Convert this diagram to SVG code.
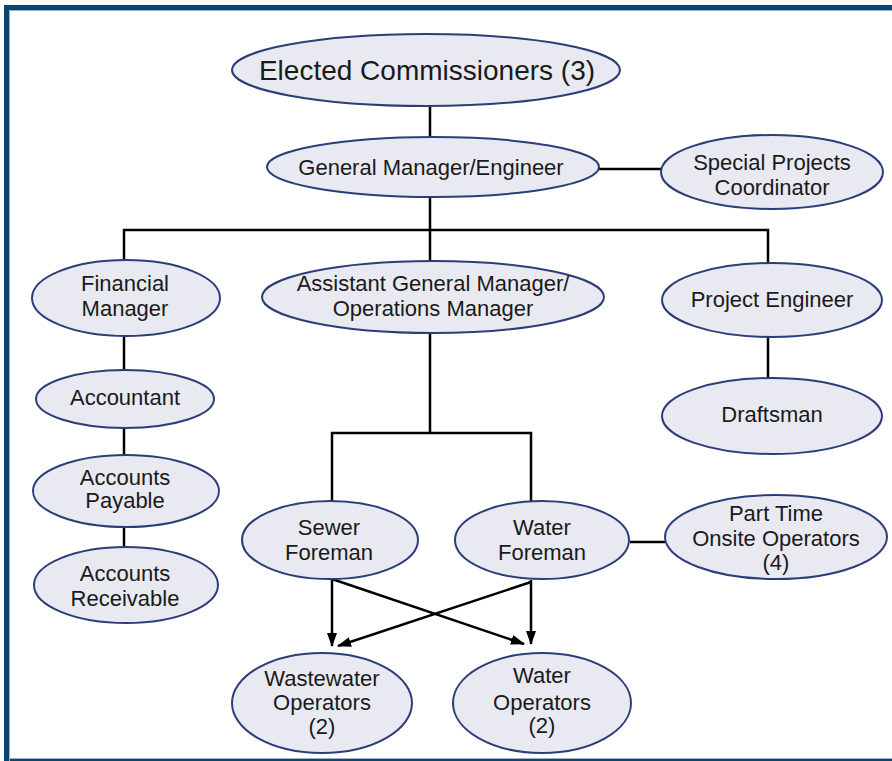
<svg xmlns="http://www.w3.org/2000/svg" width="892" height="761" viewBox="0 0 892 761">
<style>
.n ellipse{fill:#e8e9f1;stroke:#2c3e78;stroke-width:2}
.n text{font-family:"Liberation Sans",Arial,sans-serif;font-size:22px;fill:#1a1a1a;text-anchor:middle}
.c path{fill:none;stroke:#000;stroke-width:2.5}
.c .a{marker-end:url(#ah)}
</style>
<defs>
<marker id="ah" viewBox="0 0 14 10" refX="13" refY="5" markerWidth="14" markerHeight="10" markerUnits="userSpaceOnUse" orient="auto">
<path d="M0,0 L14,5 L0,10 Z" fill="#000"/>
</marker>
</defs>
<rect x="0" y="0" width="892" height="761" fill="#fff"/>
<rect x="4" y="5" width="888" height="5" fill="#0b456f"/>
<rect x="4" y="5" width="5" height="756" fill="#0b456f"/>
<rect x="4" y="759" width="888" height="2" fill="#0b456f"/>
<path d="M9.5,761 V10.5 H892 M9.5,758.5 H892" fill="none" stroke="#9ab4cc" stroke-width="1"/>
<g class="c">
<path d="M430,106 V138"/>
<path d="M598,169 H662"/>
<path d="M430,198 V262"/>
<path d="M124,262 V230 H768 V263"/>
<path d="M124,337 V370"/>
<path d="M124,428 V455"/>
<path d="M124,527 V546"/>
<path d="M768,337 V379"/>
<path d="M430,333 V433"/>
<path d="M332,501 V433 H531 V501"/>
<path d="M630,542 H665"/>
<path class="a" d="M332,579 V646"/>
<path class="a" d="M332,579 L524,644"/>
<path class="a" d="M531,580 V644"/>
<path class="a" d="M531,582 L338,646"/>
</g>
<g id="elected" class="n"><ellipse cx="426" cy="70" rx="194" ry="36"/><text x="427" y="80" style="font-size:28px">Elected Commissioners (3)</text></g>
<g id="gm" class="n"><ellipse cx="433" cy="167" rx="166" ry="30"/><text x="431" y="175">General Manager/Engineer</text></g>
<g id="special" class="n"><ellipse cx="772" cy="172" rx="111" ry="37"/><text x="772" y="170">Special Projects</text><text x="772" y="195">Coordinator</text></g>
<g id="financial" class="n"><ellipse cx="126" cy="298" rx="94" ry="38"/><text x="125" y="291">Financial</text><text x="125" y="316">Manager</text></g>
<g id="accountant" class="n"><ellipse cx="125" cy="399" rx="89" ry="29"/><text x="125" y="405">Accountant</text></g>
<g id="payable" class="n"><ellipse cx="126" cy="491" rx="93" ry="36"/><text x="125" y="485">Accounts</text><text x="125" y="508">Payable</text></g>
<g id="receivable" class="n"><ellipse cx="126" cy="585" rx="92" ry="38"/><text x="125" y="581">Accounts</text><text x="125" y="606">Receivable</text></g>
<g id="agm" class="n"><ellipse cx="433" cy="297" rx="171" ry="36"/><text x="433" y="291">Assistant General Manager/</text><text x="433" y="316">Operations Manager</text></g>
<g id="projeng" class="n"><ellipse cx="772" cy="300" rx="110" ry="37"/><text x="772" y="307">Project Engineer</text></g>
<g id="draftsman" class="n"><ellipse cx="772" cy="416" rx="110" ry="38"/><text x="772" y="422">Draftsman</text></g>
<g id="sewer" class="n"><ellipse cx="330" cy="540" rx="88" ry="39"/><text x="329" y="535">Sewer</text><text x="329" y="560">Foreman</text></g>
<g id="waterf" class="n"><ellipse cx="542" cy="540" rx="87" ry="39"/><text x="542" y="535">Water</text><text x="542" y="560">Foreman</text></g>
<g id="parttime" class="n"><ellipse cx="776" cy="537" rx="111" ry="42"/><text x="776" y="521">Part Time</text><text x="776" y="546">Onsite Operators</text><text x="776" y="570">(4)</text></g>
<g id="wastewater" class="n"><ellipse cx="322" cy="703" rx="90" ry="50"/><text x="322" y="686">Wastewater</text><text x="322" y="710">Operators</text><text x="322" y="734">(2)</text></g>
<g id="waterops" class="n"><ellipse cx="542" cy="703" rx="89" ry="50"/><text x="542" y="683">Water</text><text x="542" y="710">Operators</text><text x="542" y="733">(2)</text></g>
</svg>
